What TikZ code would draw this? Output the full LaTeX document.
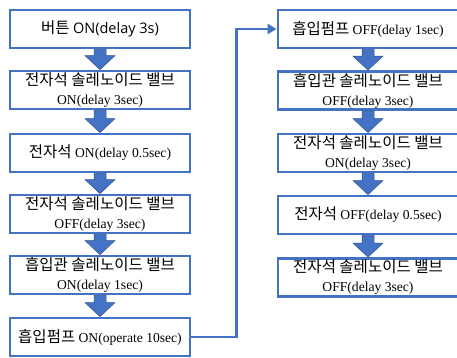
\documentclass[tikz,border=0pt]{standalone}
\usepackage{fontspec}
\setmainfont{Liberation Serif}
\newfontfamily\kr{Noto Sans CJK KR}
\newfontfamily\osans{Open Sans}
\usetikzlibrary{calc,arrows.meta}
\definecolor{offblue}{HTML}{4472C4}
\definecolor{offdark}{HTML}{2F528F}
\tikzset{
  stepbox/.style={draw=offblue, line width=2.8pt, fill=white, minimum width=180pt, minimum height=38pt, inner sep=0pt, align=center, font=\fontsize{13.6}{19}\selectfont},
  blockarr/.style={fill=offblue, draw=offdark, line width=0.5pt},
  conn/.style={draw=offblue, line width=2.8pt, -{Triangle[length=9pt,width=10pt]}}
}
\newcommand\blkarr[2]{\path[blockarr] let \p1=(#1.south), \p2=(#2.north) in
  (\x1-6pt,\y1) -- (\x1+6pt,\y1) -- (\x1+6pt,\y2+14pt) -- (\x1+15pt,\y2+14pt) -- (\x1,\y2)
  -- (\x1-15pt,\y2+14pt) -- (\x1-6pt,\y2+14pt) -- cycle;}
\newcommand\K[1]{{\kr\fontsize{15.5}{19}\selectfont #1}}
\begin{document}
\begin{tikzpicture}[x=1pt,y=-1pt]
\useasboundingbox (0,0) rectangle (457,357);
\clip (0,0) rectangle (457,357);
\node[stepbox] (b1) at (100,29) {\K{버튼} {\osans\fontsize{14.5}{18}\selectfont ON(delay 3s)}};
\node[stepbox] (b2) at (100,90) {\K{전자석 솔레노이드 밸브}\\ON(delay 3sec)};
\node[stepbox] (b3) at (100,153) {\K{전자석} ON(delay 0.5sec)};
\node[stepbox] (b4) at (100,214) {\K{전자석 솔레노이드 밸브}\\OFF(delay 3sec)};
\node[stepbox] (b5) at (100,275) {\K{흡입관 솔레노이드 밸브}\\ON(delay 1sec)};
\node[stepbox] (b6) at (100,337) {\K{흡입펌프} ON(operate 10sec)};
\node[stepbox] (r1) at (368,29) {\K{흡입펌프} OFF(delay 1sec)};
\node[stepbox] (r2) at (368,90.5) {\K{흡입관 솔레노이드 밸브}\\OFF(delay 3sec)};
\node[stepbox] (r3) at (368,153) {\K{전자석 솔레노이드 밸브}\\ON(delay 3sec)};
\node[stepbox] (r4) at (368,215) {\K{전자석} OFF(delay 0.5sec)};
\node[stepbox] (r5) at (368,277.5) {\K{전자석 솔레노이드 밸브}\\OFF(delay 3sec)};
\blkarr{b1}{b2}
\blkarr{b2}{b3}
\blkarr{b3}{b4}
\blkarr{b4}{b5}
\blkarr{b5}{b6}
\blkarr{r1}{r2}
\blkarr{r2}{r3}
\blkarr{r3}{r4}
\blkarr{r4}{r5}
\draw[conn] (b6.east) -- ++(45,0) |- (r1.west);
\end{tikzpicture}
\end{document}
